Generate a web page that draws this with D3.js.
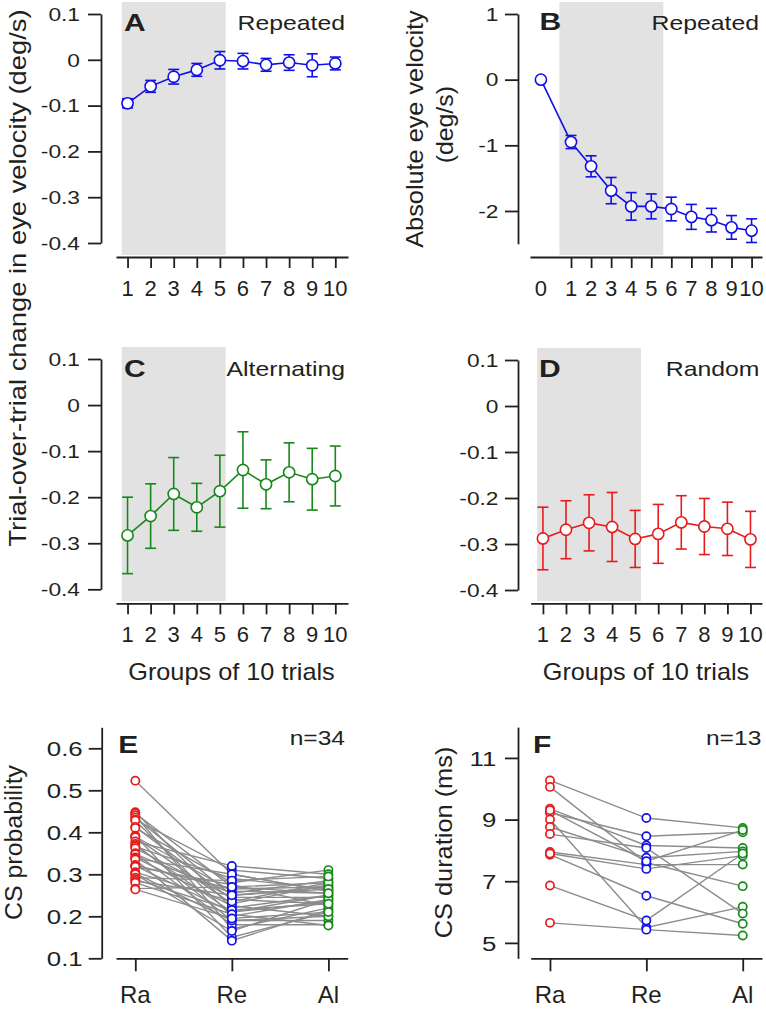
<!DOCTYPE html>
<html><head><meta charset="utf-8">
<script src="https://cdn.jsdelivr.net/npm/d3@7"></script>
<style>html,body{margin:0;padding:0;background:#fff;} svg{display:block;}</style>
</head><body>
<svg id="chart" width="766" height="1010"></svg>
<script>
// ---------- data ----------
const groups = [1,2,3,4,5,6,7,8,9,10];
const repeatedMean = [-0.095,-0.058,-0.037,-0.022,-0.001,-0.003,-0.011,-0.006,-0.012,-0.008];
const repeatedErr  = [0.010,0.013,0.016,0.014,0.019,0.017,0.014,0.017,0.025,0.014];
const absPos   = [-0.5,1,2,3,4,5,6,7,8,9,10];
const absLabels = ["0","1","2","3","4","5","6","7","8","9","10"];
const absMean  = [0,-0.95,-1.32,-1.69,-1.93,-1.93,-1.97,-2.09,-2.14,-2.25,-2.30];
const absErr   = [0,0.10,0.16,0.20,0.21,0.19,0.18,0.19,0.18,0.18,0.18];
const altMean  = [-0.283,-0.241,-0.193,-0.222,-0.187,-0.141,-0.172,-0.146,-0.161,-0.154];
const altErr   = [0.083,0.070,0.079,0.052,0.078,0.083,0.053,0.064,0.067,0.065];
const randMean = [-0.288,-0.269,-0.254,-0.263,-0.289,-0.278,-0.253,-0.262,-0.267,-0.290];
const randErr  = [0.068,0.063,0.061,0.075,0.062,0.064,0.058,0.061,0.058,0.061];
const conditions = ["Ra","Re","Al"];
const probRa = [0.523,0.448,0.445,0.440,0.435,0.430,0.428,0.413,0.410,0.392,0.390,0.388,0.378,0.372,0.368,0.366,0.362,0.350,0.348,0.340,0.338,0.335,0.322,0.320,0.318,0.305,0.302,0.300,0.292,0.288,0.284,0.280,0.266,0.264];
const probRe = [0.300,0.220,0.270,0.170,0.250,0.310,0.200,0.240,0.280,0.150,0.260,0.230,0.320,0.190,0.210,0.290,0.245,0.180,0.255,0.225,0.300,0.142,0.265,0.210,0.275,0.235,0.190,0.165,0.285,0.215,0.250,0.205,0.270,0.195];
const probAl = [0.260,0.250,0.280,0.220,0.270,0.290,0.240,0.230,0.310,0.210,0.255,0.275,0.300,0.190,0.235,0.265,0.245,0.180,0.285,0.200,0.260,0.215,0.270,0.250,0.225,0.280,0.200,0.240,0.295,0.230,0.265,0.178,0.255,0.210];
const durRa = [10.27,10.06,9.35,9.22,9.00,8.76,8.53,7.95,7.86,7.90,6.86,5.65,9.30];
const durRe = [9.05,7.60,8.16,8.46,5.50,7.76,8.08,7.54,6.53,7.40,5.73,5.43,7.65];
const durAl = [8.73,6.84,8.08,8.59,6.17,7.97,5.95,7.54,5.62,7.83,7.90,5.24,8.66];
const velTicks = [0.1,0,-0.1,-0.2,-0.3,-0.4];
const absTicks = [1,0,-1,-2];
const probTicks = [0.6,0.5,0.4,0.3,0.2,0.1];
const durTicks = [11,9,7,5];

const BLUE = "#1010e6", GREEN = "#17881a", RED = "#e61c1c", GREY = "#e2e2e2", INK = "#231f20";
const FONT = "'Liberation Sans', Arial, Helvetica, sans-serif";
const svg = d3.select("#chart");

function txt(x, y, s, o) {
  o = o || {};
  const t = svg.append("text")
    .attr("transform", `translate(${x},${y}) rotate(${o.rot||0}) scale(${o.sx||1},1)`)
    .attr("font-family", FONT).attr("font-size", o.size||20)
    .attr("font-weight", o.bold ? "bold" : "normal")
    .attr("text-anchor", o.anchor||"start").attr("fill", INK).text(s);
  return t;
}

function styleAxis(g, sw) {
  g.select(".domain").attr("stroke", INK).attr("stroke-width", sw);
  g.selectAll(".tick line").attr("stroke", INK).attr("stroke-width", sw);
}

function yAxis(x0, y, ticks, o) {
  const g = svg.append("g").attr("transform", `translate(${x0},0)`)
    .call(d3.axisLeft(y).tickValues(ticks).tickSize(13).tickSizeOuter(0).tickFormat(d => String(d)));
  styleAxis(g, 1.8);
  g.selectAll(".tick text").attr("x", 0).attr("dy", null)
    .attr("font-family", FONT).attr("font-size", o.size).attr("fill", INK)
    .attr("text-anchor", "end")
    .attr("transform", `translate(${-o.off},${o.size*0.36}) scale(${o.sx},1)`);
}

function xAxis(y0, x, ticks, labels, o) {
  const g = svg.append("g").attr("transform", `translate(0,${y0})`)
    .call(d3.axisBottom(x).tickValues(ticks).tickSize(o.tick).tickSizeOuter(0).tickFormat(""));
  styleAxis(g, 1.8);
  labels.forEach((l, i) => {
    txt(x(l.pos), y0 + o.base, l.text, {size: o.size, anchor: "middle"});
  });
}

function seriesPanel(x, y, xs, mean, err, color, skipFirstErr) {
  const g = svg.append("g");
  const line = d3.line().x((d, i) => x(xs[i])).y(d => y(d));
  g.append("path").datum(mean).attr("d", line).attr("fill", "none")
    .attr("stroke", color).attr("stroke-width", 1.6);
  mean.forEach((m, i) => {
    if (skipFirstErr && i === 0) return;
    const cx = x(xs[i]), y1 = y(m + err[i]), y2 = y(m - err[i]);
    g.append("line").attr("x1", cx).attr("x2", cx).attr("y1", y1).attr("y2", y2)
      .attr("stroke", color).attr("stroke-width", 1.6);
    [y1, y2].forEach(yy => g.append("line").attr("x1", cx - 5.5).attr("x2", cx + 5.5)
      .attr("y1", yy).attr("y2", yy).attr("stroke", color).attr("stroke-width", 1.6));
  });
  g.selectAll("circle").data(mean).join("circle")
    .attr("cx", (d, i) => x(xs[i])).attr("cy", d => y(d)).attr("r", 5.6)
    .attr("fill", "#fff").attr("stroke", color).attr("stroke-width", 1.6);
}

function shade(x, y, x0, x1, yTop, yBot) {
  svg.append("rect").attr("x", x(x0)).attr("width", x(x1) - x(x0))
    .attr("y", yTop).attr("height", yBot - yTop).attr("fill", GREY);
}

const tickOptsAD = {tick: 11, base: 39, size: 22};
const yOptsL = {size: 17.5, sx: 1.3, off: 21};
const yOptsR = {size: 17.5, sx: 1.3, off: 19.5};

// ---------- Panel A ----------
{
  const x = d3.scaleLinear().domain([0.5, 10.55]).range([116, 348]);
  const y = d3.scaleLinear().domain([-0.4, 0.1]).range([243, 14]);
  shade(x, y, 0.75, 5.25, y(0.1) - 12, 255);
  yAxis(101, y, velTicks, yOptsL);
  xAxis(257, x, groups, groups.map(g => ({pos: g, text: String(g)})), tickOptsAD);
  seriesPanel(x, y, groups, repeatedMean, repeatedErr, BLUE);
  txt(124, 30.5, "A", {size: 24, bold: true, sx: 1.25});
  txt(345, 30, "Repeated", {size: 20, sx: 1.24, anchor: "end"});
}
// ---------- Panel B ----------
{
  const x = d3.scaleLinear().domain([-1.044, 10.52]).range([530, 762]);
  const y = d3.scaleLinear().domain([-2.5, 1]).range([243.8, 14]);
  shade(x, y, 0.42, 5.6, y(1) - 12, 255);
  yAxis(518, y, absTicks, yOptsR);
  xAxis(257, x, groups, absPos.map((p, i) => ({pos: p, text: absLabels[i]})), tickOptsAD);
  seriesPanel(x, y, absPos, absMean, absErr, BLUE, true);
  txt(539.5, 30, "B", {size: 24, bold: true, sx: 1.25});
  txt(759, 30, "Repeated", {size: 20, sx: 1.24, anchor: "end"});
}
// ---------- Panel C ----------
{
  const x = d3.scaleLinear().domain([0.5, 10.55]).range([116, 348]);
  const y = d3.scaleLinear().domain([-0.4, 0.1]).range([589.3, 359]);
  shade(x, y, 0.75, 5.25, y(0.1) - 12, 601);
  yAxis(101, y, velTicks, yOptsL);
  xAxis(603.3, x, groups, groups.map(g => ({pos: g, text: String(g)})), tickOptsAD);
  seriesPanel(x, y, groups, altMean, altErr, GREEN);
  txt(124, 377, "C", {size: 24, bold: true, sx: 1.25});
  txt(345, 376, "Alternating", {size: 20, sx: 1.24, anchor: "end"});
  txt(231.5, 680, "Groups of 10 trials", {size: 23, sx: 1.1, anchor: "middle"});
}
// ---------- Panel D ----------
{
  const x = d3.scaleLinear().domain([0.47, 10.5]).range([530.7, 762]);
  const y = d3.scaleLinear().domain([-0.4, 0.1]).range([590, 360]);
  shade(x, y, 0.75, 5.25, y(0.1) - 12, 601);
  yAxis(518, y, velTicks, yOptsR);
  xAxis(603.3, x, groups, groups.map(g => ({pos: g, text: String(g)})), tickOptsAD);
  seriesPanel(x, y, groups, randMean, randErr, RED);
  txt(539, 377, "D", {size: 24, bold: true, sx: 1.25});
  txt(759.5, 376, "Random", {size: 20, sx: 1.24, anchor: "end"});
  txt(646, 680, "Groups of 10 trials", {size: 23, sx: 1.1, anchor: "middle"});
}

// ---------- paired panels ----------
function pairedPanel(x, y, a, b, c) {
  const g = svg.append("g");
  const rows = a.map((v, i) => [v, b[i], c[i]]);
  const line = d3.line().x((d, i) => x(i)).y(d => y(d));
  g.selectAll("path.pair").data(rows).join("path").attr("class", "pair")
    .attr("d", line).attr("fill", "none").attr("stroke", "#8c8c8c").attr("stroke-width", 1.4);
  [[a, RED], [b, BLUE], [c, GREEN]].forEach(([vals, col], k) => {
    g.append("g").selectAll("circle").data(vals).join("circle")
      .attr("cx", x(k)).attr("cy", d => y(d)).attr("r", 4.1)
      .attr("fill", "#fff").attr("stroke", col).attr("stroke-width", 1.7);
  });
}
const tickOptsEF = {tick: 13, base: 45, size: 24};
// ---------- Panel E ----------
{
  const x = d3.scaleLinear().domain([-0.2, 2.2]).range([116, 347.7]);
  const y = d3.scaleLinear().domain([0.1, 0.65]).range([958.3, 727.3]);
  yAxis(101.7, y, probTicks, {size: 20.5, sx: 1.26, off: 19});
  xAxis(958.3, x, [0,1,2], conditions.map((c, i) => ({pos: i, text: c})), tickOptsEF);
  pairedPanel(x, y, probRa, probRe, probAl);
  txt(118.3, 752.7, "E", {size: 24, bold: true, sx: 1.25});
  txt(345, 745, "n=34", {size: 19.5, sx: 1.26, anchor: "end"});
  txt(22, 842.5, "CS probability", {size: 23.5, sx: 1.06, anchor: "middle", rot: -90});
}
// ---------- Panel F ----------
{
  const x = d3.scaleLinear().domain([-0.2, 2.2]).range([530.7, 762]);
  const y = d3.scaleLinear().domain([4.5, 12]).range([958.3, 727.1]);
  yAxis(518, y, durTicks, {size: 20.5, sx: 1.26, off: 21.7});
  xAxis(958.3, x, [0,1,2], conditions.map((c, i) => ({pos: i, text: c})), tickOptsEF);
  pairedPanel(x, y, durRa, durRe, durAl);
  txt(533, 752.7, "F", {size: 24, bold: true, sx: 1.25});
  txt(761.3, 745, "n=13", {size: 19.5, sx: 1.26, anchor: "end"});
  txt(452, 842.5, "CS duration (ms)", {size: 23.5, sx: 1.08, anchor: "middle", rot: -90});
}

// ---------- shared titles ----------
txt(25.5, 278, "Trial-over-trial change in eye velocity (deg/s)", {size: 23, sx: 1.19, anchor: "middle", rot: -90});
txt(423, 129, "Absolute eye velocity", {size: 23, sx: 1.1, anchor: "middle", rot: -90});
txt(453, 124.7, "(deg/s)", {size: 23, sx: 1.08, anchor: "middle", rot: -90});
</script>
</body></html>
